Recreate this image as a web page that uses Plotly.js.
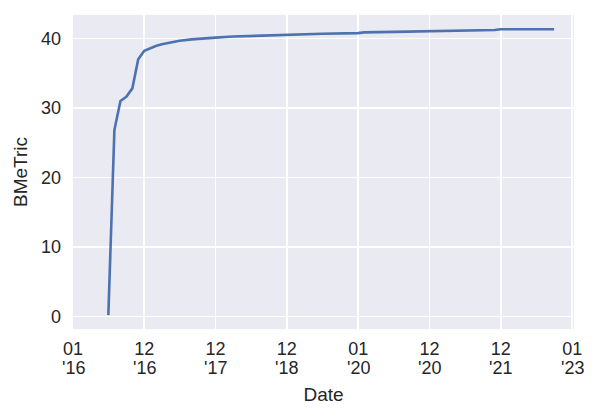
<!DOCTYPE html>
<html>
<head>
<meta charset="utf-8">
<script src="https://cdn.plot.ly/plotly-3.0.1.min.js"></script>
<style>html,body{margin:0;padding:0;background:#fff;}#chart{width:600px;height:420px;}</style>
</head>
<body>
<div id="chart"></div>
<script>
const dates = [
  "2016-06-30","2016-07-31","2016-08-31","2016-09-30","2016-10-31","2016-11-30","2016-12-31",
  "2017-01-31","2017-02-28","2017-03-31","2017-04-30","2017-05-31","2017-06-30","2017-08-31",
  "2017-10-31","2017-12-31","2018-03-31","2018-06-30","2018-09-30","2018-11-30","2018-12-31",
  "2019-06-30","2019-12-31","2020-01-31","2020-06-30","2020-12-31","2021-05-31","2021-06-30",
  "2021-11-30","2021-12-31","2022-09-30"
];
const bmetric = [
  0.2, 26.8, 31.0, 31.6, 32.8, 37.0, 38.2,
  38.6, 38.9, 39.15, 39.35, 39.5, 39.65, 39.85,
  40.0, 40.1, 40.25, 40.35, 40.45, 40.5, 40.55,
  40.65, 40.75, 40.85, 40.92, 41.0, 41.05, 41.15,
  41.2, 41.3, 41.3
];
const tickDates = ["2016-01-01","2016-12-31","2017-12-31","2018-12-31","2020-01-01","2020-12-31","2021-12-31","2023-01-01"];
const tickMonths = ["01","12","12","12","01","12","12","01"];
const tickYears = ["'16","'16","'17","'18","'20","'20","'21","'23"];
const yTicks = [0, 10, 20, 30, 40];

const FAM = "Liberation Sans, Arial, sans-serif";
const font = {family: FAM, size: 19, color: "#262626"};
const tfont = {family: FAM, size: 18, color: "#262626"};

const yearAnn = tickDates.map((d, i) => ({
  x: d, xref: "x", y: 0, yref: "paper",
  yanchor: "top", xanchor: "center", yshift: -28, borderpad: 0,
  text: tickYears[i], showarrow: false, font: tfont
}));

Plotly.newPlot("chart", [{
  x: dates, y: bmetric, type: "scatter", mode: "lines",
  line: {color: "#4C72B0", width: 2.6}
}], {
  width: 600, height: 420,
  margin: {l: 73, r: 26, t: 15, b: 91},
  paper_bgcolor: "#ffffff",
  plot_bgcolor: "#EAEAF2",
  font: font,
  showlegend: false,
  annotations: yearAnn,
  xaxis: {
    type: "date",
    range: ["2016-01-01", "2023-01-10"],
    tickmode: "array", tickvals: tickDates, ticktext: tickMonths,
    showgrid: true, gridcolor: "#ffffff", gridwidth: 1.6,
    zeroline: false, showline: false, ticks: "",
    ticklabelstandoff: 7,
    tickfont: tfont,
    title: {text: "Date", font: font, standoff: 29}
  },
  yaxis: {
    range: [-1.8, 43.35],
    tickmode: "array", tickvals: yTicks,
    showgrid: true, gridcolor: "#ffffff", gridwidth: 1.6,
    zeroline: false, showline: false, ticks: "",
    ticklabelstandoff: 11,
    tickfont: tfont,
    title: {text: "BMeTric", font: font, standoff: 8}
  }
}, {displayModeBar: false, staticPlot: true});
</script>
</body>
</html>
